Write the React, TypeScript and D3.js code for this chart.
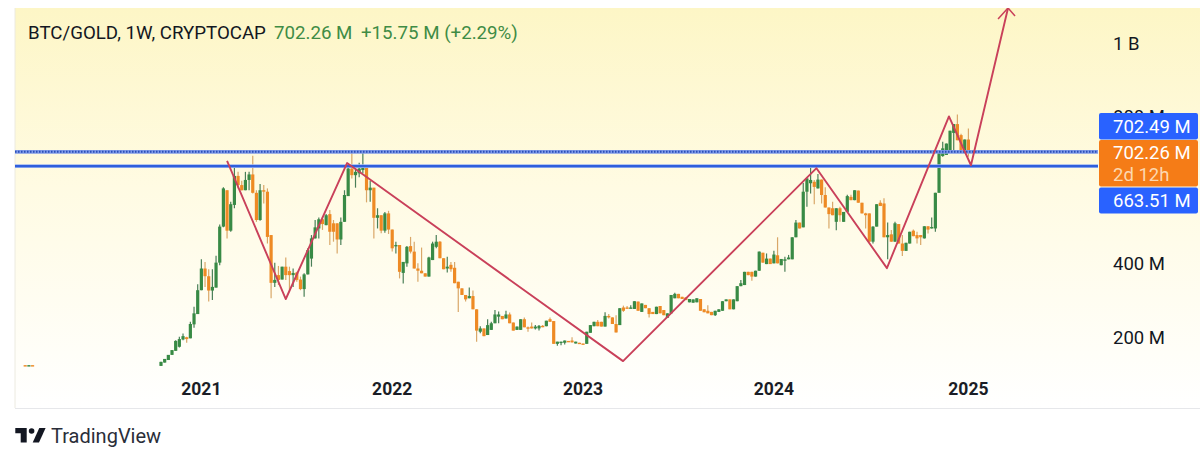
import React from "react";
import * as d3 from "d3";

type Candle = [number, number, number, number]; // open, high, low, close (millions)

const earlyWeeks = [-37, -36, -35];
const earlyCandles: Candle[] = [[122, 122.5, 121, 121.5], [121.5, 122.5, 121, 122], [122, 122.3, 121.5, 121.8]];

const candles2020: Candle[] = [
  [120,131,120,131],[129,139,129,139],[136,150,136,150],[150,163,150,163],[161,190,161,188],[172,199,170,193],
  [192,208,190,201],[198,199,183,193],[195,240,195,234],[233,281,224,263],[261,342,261,326],
];
const candles2021a: Candle[] = [
  [326,410,326,385],[385,403,335,364],[364,383,295,325],[325,383,299,335],[333,420,333,401],[401,505,394,499],
  [499,606,497,603],[598,598,467,488],[488,567,485,560],[558,660,549,637],[637,648,603,612],[612,624,597,598],
  [598,648,598,626],[626,648,598,641],[641,692,589,591],[591,598,512,517],[517,615,515,598],[598,612,562,597],
  [594,603,453,471],[476,476,304,346],[346,401,335,354],[367,392,340,354],[355,390,355,390],[390,415,354,367],
  [378,390,322,367],
];
const candles2021b: Candle[] = [
  [367,385,335,373],[374,376,349,354],[355,363,326,329],[329,372,308,369],[369,440,369,435],[412,476,390,467],
  [467,517,467,497],[494,524,467,519],[519,526,490,506],[503,533,503,530],[533,544,449,485],[508,517,458,485],
  [508,508,426,464],[464,524,449,512],[512,598,512,585],[582,669,582,657],[657,703,630,639],[639,666,605,648],
  [644,673,633,657],[653,707,644,662],[662,664,565,598],[598,624,567,605],[605,605,467,523],[523,549,494,530],
  [530,530,481,488],[488,539,482,535],[535,542,479,491],
];
const candles2022a: Candle[] = [
  [491,491,431,440],[446,458,426,449],[449,449,358,376],[373,403,344,403],[399,446,390,444],[446,471,426,431],
  [431,458,385,385],[385,399,349,379],[379,442,372,372],[372,372,363,363],[363,417,363,415],[408,458,408,453],
  [444,476,440,458],[458,460,413,413],[413,413,383,383],[385,417,374,390],[395,403,376,383],[387,403,345,345],
  [349,349,267,331],[331,331,313,313],[313,313,295,301],[304,333,304,310],[310,325,274,274],[274,274,186,216],
];
const candles2022b: Candle[] = [
  [213,228,209,222],[222,222,201,201],[204,247,204,231],[218,240,218,236],[236,272,236,260],[254,268,236,260],
  [256,256,247,247],[249,270,249,260],[260,265,236,236],[238,238,216,216],[218,227,218,227],[218,247,218,247],
  [247,252,225,225],[225,227,213,222],[227,238,222,222],[222,231,219,227],[222,231,216,229],[229,231,225,227],
  [228,243,228,243],[247,252,240,240],[242,242,180,180],[180,186,175,186],[183,186,176,186],[183,189,178,189],
  [188,188,186,186],[189,198,184,184],[181,186,181,186],[183,183,180,180],[181,181,180,180],
];
const candles2023: Candle[] = [
  [180,213,180,213],[210,231,210,231],[228,240,228,240],[240,245,228,228],[240,240,227,227],[227,266,227,256],
  [256,261,249,252],[252,252,234,234],[234,258,211,211],[231,277,231,277],[279,284,267,270],[279,283,277,277],
  [277,285,277,279],[275,296,275,296],[295,295,270,270],[267,290,267,290],[286,286,277,277],[277,277,252,261],
  [267,267,261,261],[261,281,261,281],[283,283,263,263],[272,272,258,258],[251,263,251,263],[263,313,263,313],
  [304,319,304,316],[316,316,304,304],[308,308,302,302],[306,306,299,299],[293,302,293,302],[292,301,292,301],
  [293,304,293,304],[302,302,270,270],[274,274,266,266],[270,285,263,263],[267,267,258,258],[258,270,256,270],
  [267,274,267,274],[270,296,270,296],[296,301,296,301],[301,301,274,274],[274,301,274,301],[296,337,296,337],
  [337,354,337,345],[340,376,340,376],[376,376,367,367],[376,376,352,363],[363,379,363,379],[379,431,379,431],
  [428,428,401,401],[397,426,397,412],[412,412,397,397],[399,433,399,423],[421,470,399,399],
];
const candles2024: Candle[] = [
  [394,411,394,411],[406,417,376,410],[410,422,410,415],[410,470,410,470],[470,517,470,510],[510,510,494,494],
  [497,618,497,594],[594,633,553,630],[617,664,589,626],[621,626,560,607],[603,642,603,627],[627,627,562,585],
  [585,606,551,551],[551,551,494,533],[549,567,530,530],[512,549,489,549],[549,553,512,530],[512,539,512,539],
  [539,586,539,582],[580,586,571,571],[571,598,571,598],[597,597,564,564],[564,564,535,535],[535,537,494,530],
  [535,535,458,458],[458,500,453,499],[499,560,499,560],[564,571,555,555],[562,576,470,470],[470,510,410,476],
  [478,490,458,458],[458,512,458,508],[506,506,453,453],[453,476,419,433],[433,455,433,455],[453,485,453,485],
  [488,491,473,473],[476,485,453,467],[476,476,449,470],[467,500,467,500],[500,500,480,491],[494,524,494,498],
  [494,591,485,591],[591,703,591,703],[691,730,689,712],[694,725,694,725],[703,760,703,760],[754,778,703,778],
  [778,804,734,734],[748,752,707,707],[703,736,703,736],[736,766,689,702.26],
];

const allCandles: Candle[] = [
  ...candles2020, ...candles2021a, ...candles2021b, ...candles2022a, ...candles2022b, ...candles2023, ...candles2024,
];

const waveWeeks = [18, 34, 50.7, 125.9, 178.6, 197.8, 214.7, 220.7, 230.8];
const waveValues = [678, 302, 672, 133, 658, 386, 799, 666, 1094];

const yearWeeks = [11, 63, 115, 167, 220];
const yearLabels = ["2021", "2022", "2023", "2024", "2025"];
const priceTicks = [1000, 800, 400, 200];
const priceLabels = ["1 B", "800 M", "400 M", "200 M"];
const levelValues = [702.49, 663.51];

const W = 1200, H = 463;
const x = d3.scaleLinear().domain([0, 220]).range([161, 968.4]);
const y = d3.scaleLinear().domain([200, 1000]).range([336.5, 42.5]);

const GREEN = "#388a45", ORANGE = "#ee8a24", GREEN_WICK = "#4a7f58", ORANGE_WICK = "#d9a768";
const RED = "#c9405a", BLUE = "#2f5fdc";
const FONT = "Roboto, sans-serif";

function CandleMark({ c, i }: { c: Candle; i: number }) {
  const [o, h, l, cl] = c;
  const up = cl >= o;
  const top = y(Math.max(o, cl));
  const bot = y(Math.min(o, cl));
  return (
    <g>
      <line x1={x(i)} x2={x(i)} y1={y(h)} y2={y(l)} stroke={up ? GREEN_WICK : ORANGE_WICK} strokeWidth={1.2} />
      <rect x={x(i) - 1.6} width={3.2} y={top} height={Math.max(bot - top, 1.4)} fill={up ? GREEN : ORANGE} />
    </g>
  );
}

export default function App() {
  const wave = d3.line<number>().x((w) => x(w)).y((_, i) => y(waveValues[i]));
  const tipX = x(waveWeeks[waveWeeks.length - 1]);
  const tipY = y(waveValues[waveValues.length - 1]);
  return (
    <svg width={W} height={H} viewBox={`0 0 ${W} ${H}`} style={{ position: "fixed", left: 0, top: 0, background: "#fff" }}>
      <defs>
        <linearGradient id="bg" x1="0" x2="0" y1="0" y2="1">
          <stop offset="0" stopColor="#fdf6c6" />
          <stop offset="0.45" stopColor="#fffbe3" />
          <stop offset="1" stopColor="#ffffff" />
        </linearGradient>
        <clipPath id="pane"><rect x={15} y={8} width={1185} height={400} /></clipPath>
      </defs>
      <rect x={15} y={8} width={1185} height={400} fill="url(#bg)" />
      <line x1={15} x2={15} y1={8} y2={408} stroke="#eceae0" />
      <line x1={15} x2={1200} y1={408.5} y2={408.5} stroke="#e6e7ea" />

      <text x={28} y={39} fontFamily={FONT} fontSize={18.7} fill="#131722">BTC/GOLD, 1W, CRYPTOCAP</text>
      <text x={274} y={39} fontFamily={FONT} fontSize={18.7} fill="#3f8c45">702.26 M</text>
      <text x={361} y={39} fontFamily={FONT} fontSize={18.7} fill="#3f8c45">+15.75 M (+2.29%)</text>

      {priceTicks.map((t, i) => (
        <text key={t} x={1113} y={y(t) + 7} fontFamily={FONT} fontSize={18.5} fill="#131722">{priceLabels[i]}</text>
      ))}
      {yearWeeks.map((w, i) => (
        <text key={w} x={x(w)} y={395} textAnchor="middle" fontFamily={FONT} fontWeight={700} fontSize={17.5} fill="#1a1d26">
          {yearLabels[i]}
        </text>
      ))}

      <g clipPath="url(#pane)">
        {earlyCandles.map((c, i) => <CandleMark key={`e${i}`} c={c} i={earlyWeeks[i]} />)}
        {allCandles.map((c, i) => <CandleMark key={i} c={c} i={i} />)}

        <line x1={15} x2={1098} y1={y(levelValues[0])} y2={y(levelValues[0])} stroke="#7f9ae8" strokeWidth={3.6} />
        <line x1={15} x2={1098} y1={y(levelValues[0])} y2={y(levelValues[0])} stroke="#2b4fb8" strokeWidth={2} strokeDasharray="1.5 1.5" />
        <line x1={15} x2={1098} y1={y(levelValues[1])} y2={y(levelValues[1])} stroke="#9db4f0" strokeWidth={3.6} />
        <line x1={15} x2={1098} y1={y(levelValues[1])} y2={y(levelValues[1])} stroke={BLUE} strokeWidth={2.4} />

        <path d={wave(waveWeeks) ?? ""} fill="none" stroke={RED} strokeWidth={1.9} strokeLinejoin="round" />
        <path d={`M${tipX - 10},${tipY + 11}L${tipX},${tipY}L${tipX + 7},${tipY + 8}`} fill="none" stroke={RED} strokeWidth={1.5} />
      </g>

      <rect x={1099} y={113} width={99} height={26.5} rx={2} fill="#2962ff" />
      <rect x={1099} y={140} width={99} height={46.5} rx={2} fill="#f57c17" />
      <rect x={1099} y={187.5} width={99} height={26} rx={2} fill="#2962ff" />
      <text x={1113} y={133} fontFamily={FONT} fontSize={18.5} fill="#fff">702.49 M</text>
      <text x={1113} y={159} fontFamily={FONT} fontSize={18.5} fill="#fff">702.26 M</text>
      <text x={1113} y={181} fontFamily={FONT} fontSize={18.5} fill="#fcd8b0">2d 12h</text>
      <text x={1113} y={207} fontFamily={FONT} fontSize={18.5} fill="#fff">663.51 M</text>

      <g fill="#131722">
        <path d="M15.3,428H26.7V442.5H20.7V433.2H15.3Z" />
        <circle cx={31.6} cy={431} r={2.8} />
        <path d="M39.3,428H45.6L39,442.5H32.7Z" />
      </g>
      <text x={51} y={442.5} fontFamily={FONT} fontSize={20} fill="#2a2e39">TradingView</text>
    </svg>
  );
}
